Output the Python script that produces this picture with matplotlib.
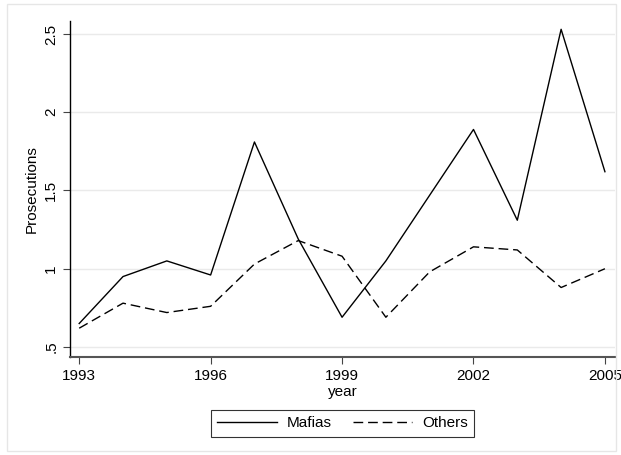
import matplotlib
matplotlib.use("Agg")
import matplotlib.pyplot as plt
from matplotlib.patches import Rectangle

plt.rcParams['font.family'] = ['Liberation Sans', 'DejaVu Sans']

# data
years = [1993, 1994, 1995, 1996, 1997, 1998, 1999, 2000, 2001, 2002, 2003, 2004, 2005]
mafias = [0.65, 0.95, 1.05, 0.96, 1.81, 1.19, 0.69, 1.05, 1.47, 1.89, 1.31, 2.53, 1.62]
others = [0.62, 0.78, 0.72, 0.76, 1.03, 1.18, 1.08, 0.69, 0.98, 1.14, 1.12, 0.88, 1.00]
xticks = [1993, 1996, 1999, 2002, 2005]
yticks = [0.5, 1, 1.5, 2, 2.5]
ylabels = ['.5', '1', '1.5', '2', '2.5']

fig = plt.figure(figsize=(6.21, 4.55), dpi=100)
# light outer frame like stata's graph region
fig.patches.append(Rectangle((7 / 621, 4 / 455), 609 / 621, 447 / 455,
                             transform=fig.transFigure, fill=False,
                             edgecolor='#e6e6e6', linewidth=1))

ax = fig.add_axes([70 / 621, 1 - 357 / 455, 545 / 621, 336 / 455])
ax.plot(years, mafias, color='black', linewidth=1, label='Mafias')
ax.plot(years, others, color='black', linewidth=1, dashes=(7, 3.5), label='Others')

ax.set_xlim(1992.79, 2005.23)
ax.set_ylim(0.436, 2.583)
ax.set_xticks(xticks)
ax.set_yticks(yticks)
ax.set_yticklabels(ylabels, rotation=90, va='center')
ax.tick_params(labelsize=11, length=5, width=0.8, direction='out', color='#444444')
ax.grid(axis='y', color='#eaeaea', linewidth=1)
ax.set_axisbelow(True)
for s in ['top', 'right']:
    ax.spines[s].set_visible(False)
ax.spines['left'].set_color('black')
ax.spines['bottom'].set_color('#555555')
ax.spines['left'].set_linewidth(1)
ax.spines['bottom'].set_linewidth(1.5)

ax.set_xlabel('year', fontsize=11, labelpad=1.5)
ax.set_ylabel('Prosecutions', fontsize=11, labelpad=4)

leg = ax.legend(loc='upper center', bbox_to_anchor=(0.5, -0.136), ncol=2,
                fontsize=11, frameon=True, fancybox=False, handlelength=3.9,
                columnspacing=1.4, borderpad=0.4, handletextpad=0.65)
leg.get_frame().set_edgecolor('black')
leg.get_frame().set_linewidth(0.8)

fig.savefig('out.png', dpi=100)
